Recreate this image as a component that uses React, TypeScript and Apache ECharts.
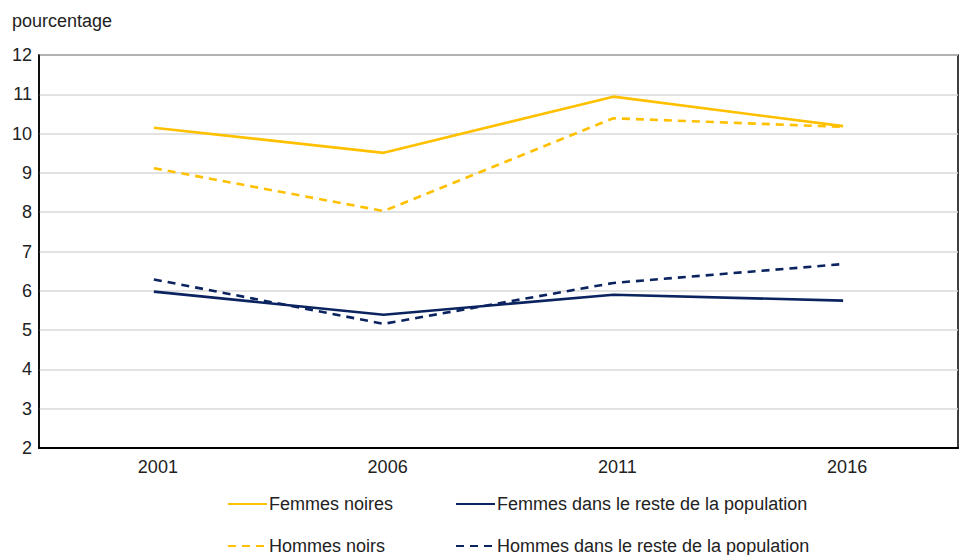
import React, { useEffect, useRef } from "react";
import * as echarts from "echarts";

const years = ["2001", "2006", "2011", "2016"];
const femmesNoires = [10.15, 9.51, 10.94, 10.19];
const hommesNoirs = [9.12, 8.03, 10.39, 10.17];
const femmesReste = [5.98, 5.39, 5.9, 5.75];
const hommesReste = [6.29, 5.16, 6.2, 6.68];

const names = [
  "Femmes noires",
  "Hommes noirs",
  "Femmes dans le reste de la population",
  "Hommes dans le reste de la population",
];

const GOLD = "#FFC000";
const NAVY = "#0B2460";
const FONT = "'Liberation Sans', Arial, sans-serif";
const TXT = "#222";

export default function App() {
  const ref = useRef<HTMLDivElement>(null);
  useEffect(() => {
    if (!ref.current) return;
    const chart = echarts.init(ref.current, null, { renderer: "svg" });
    const line = (name: string, data: number[], color: string, dashed: boolean) => ({
      name,
      type: "line",
      data,
      symbol: "none",
      lineStyle: { color, width: 2.6, type: dashed ? [8, 6] : "solid" },
      itemStyle: { color },
    });
    const leg = (name: string, left: number, top: number) => ({
      left,
      top,
      padding: 0,
      itemWidth: 39,
      itemHeight: 14,
      itemStyle: { opacity: 0 },
      data: [name],
      textStyle: { fontFamily: FONT, fontSize: 18, color: TXT, padding: [0, 0, 0, -3] },
    });
    chart.setOption({
      animation: false,
      textStyle: { fontFamily: FONT },
      grid: {
        left: 39,
        right: 4,
        top: 55,
        bottom: 107,
        show: true,
        borderColor: "#000",
        borderWidth: 1.5,
      },
      title: {
        text: "pourcentage",
        left: 7,
        top: 7,
        textStyle: { fontFamily: FONT, fontSize: 18, fontWeight: "normal", color: TXT },
      },
      xAxis: {
        type: "category",
        data: years,
        boundaryGap: true,
        axisLine: { lineStyle: { color: "#000", width: 2 } },
        axisTick: { show: false },
        axisLabel: { fontFamily: FONT, fontSize: 18, color: TXT, margin: 10, padding: [0, 0, 0, 8] },
      },
      yAxis: {
        type: "value",
        min: 2,
        max: 12,
        interval: 1,
        axisLine: { show: true, lineStyle: { color: "#000", width: 1.5 } },
        axisTick: { show: false },
        splitLine: { lineStyle: { color: "#d9d9d9", width: 1.5 } },
        axisLabel: { fontFamily: FONT, fontSize: 18, color: TXT, margin: 7 },
      },
      legend: [
        leg(names[0], 227, 495),
        leg(names[1], 227, 537),
        leg(names[2], 455, 495),
        leg(names[3], 455, 537),
      ],
      series: [
        line(names[0], femmesNoires, GOLD, false),
        line(names[1], hommesNoirs, GOLD, true),
        line(names[2], femmesReste, NAVY, false),
        line(names[3], hommesReste, NAVY, true),
      ],
    });
    return () => chart.dispose();
  }, []);
  return <div ref={ref} style={{ width: 962, height: 555, position: "absolute", left: 0, top: 0 }} />;
}
